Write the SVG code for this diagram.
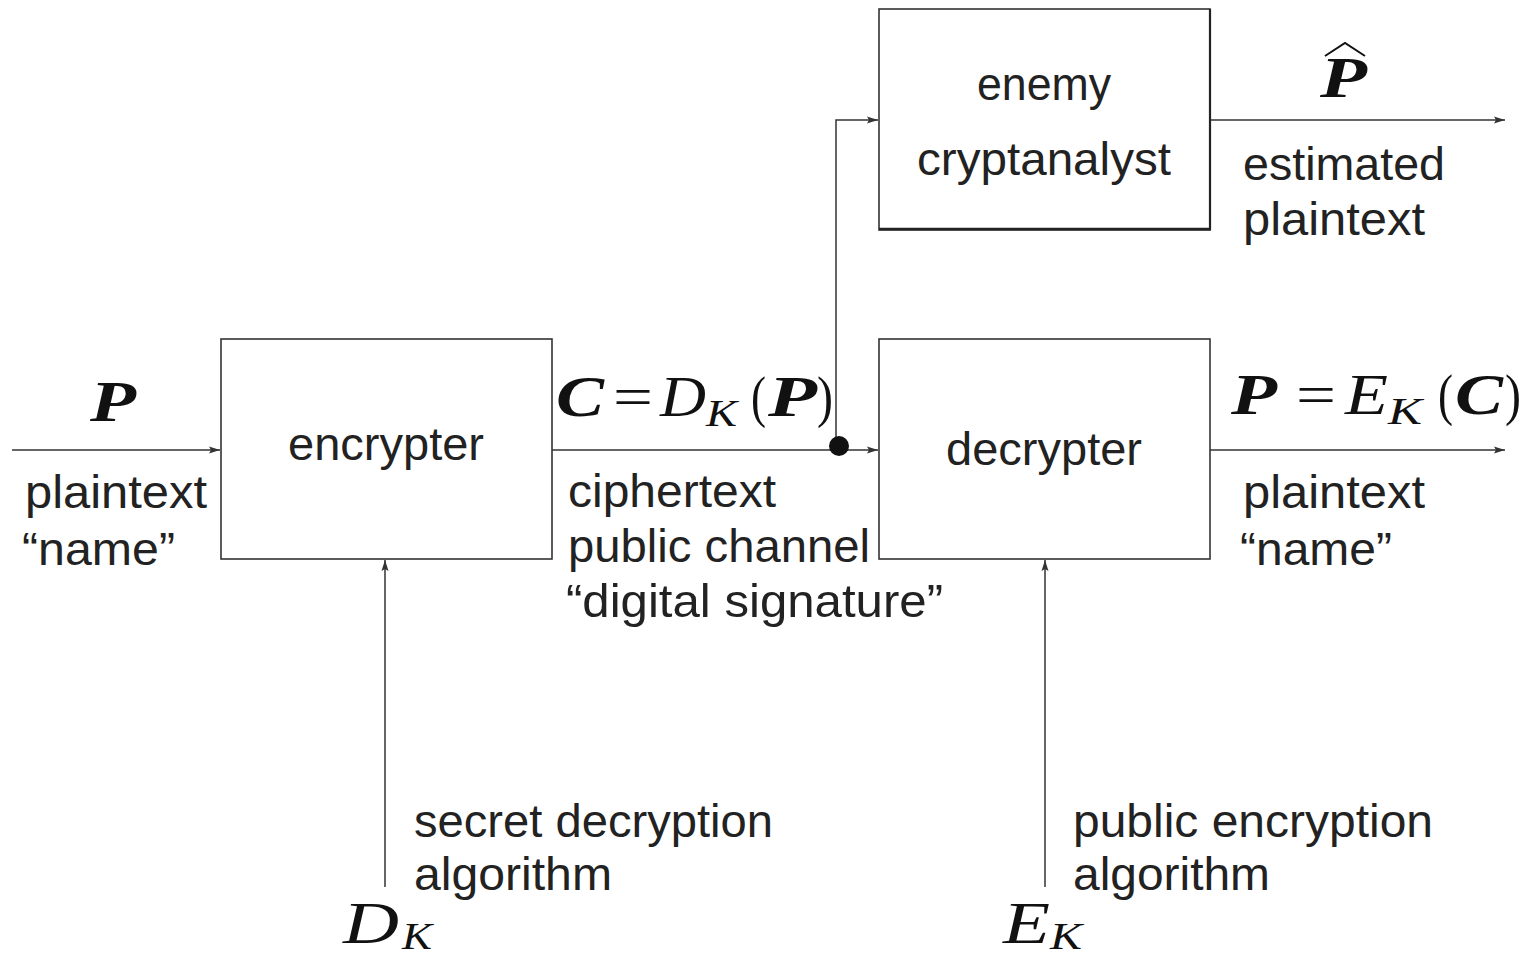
<svg xmlns="http://www.w3.org/2000/svg" width="1527" height="955" viewBox="0 0 1527 955">
<style>
.box{fill:#fff;stroke:#333;stroke-width:1.6}
.ln{fill:none;stroke:#333;stroke-width:1.5}
.t{font-family:"Liberation Sans",Arial,sans-serif;font-size:47px;fill:#222}
.m{font-family:"Liberation Serif","Times New Roman",serif;font-style:italic;font-size:56px;fill:#111}
.mb{font-weight:bold}
.up{font-style:normal}
.sub{font-size:38px}
.big{font-size:60px}
</style>
<defs>
<marker id="ah" markerWidth="12" markerHeight="8" refX="11" refY="4" orient="auto" markerUnits="userSpaceOnUse">
<path d="M0,0.5 L11,4 L0,7.5 L2,4 Z" fill="#333"/>
</marker>
</defs>
<rect width="1527" height="955" fill="#fff"/>
<g id="connectors">
<line class="ln" x1="12" y1="450" x2="220" y2="450" marker-end="url(#ah)"/>
<line class="ln" x1="552" y1="450" x2="878" y2="450" marker-end="url(#ah)"/>
<polyline class="ln" points="836,447 836,120 878,120" marker-end="url(#ah)"/>
<circle cx="839" cy="446" r="10" fill="#111"/>
<line class="ln" x1="1210" y1="120" x2="1505" y2="120" marker-end="url(#ah)"/>
<line class="ln" x1="1210" y1="450" x2="1505" y2="450" marker-end="url(#ah)"/>
<line class="ln" x1="385" y1="887" x2="385" y2="560" marker-end="url(#ah)"/>
<line class="ln" x1="1045" y1="887" x2="1045" y2="560" marker-end="url(#ah)"/>
</g>
<g id="encrypter">
<rect class="box" x="221" y="339" width="331" height="220"/>
<text class="t" x="288" y="460" textLength="196" lengthAdjust="spacingAndGlyphs">encrypter</text>
</g>
<g id="decrypter">
<rect class="box" x="879" y="339" width="331" height="220"/>
<text class="t" x="946" y="465" textLength="196" lengthAdjust="spacingAndGlyphs">decrypter</text>
</g>
<g id="enemy">
<rect class="box" x="879" y="9" width="331" height="221"/>
<line x1="879" y1="229" x2="1211" y2="229" stroke="#222" stroke-width="2.5"/>
<line x1="1210" y1="9" x2="1210" y2="230" stroke="#222" stroke-width="2.2"/>
<text class="t" x="977" y="100" textLength="134" lengthAdjust="spacingAndGlyphs">enemy</text>
<text class="t" x="917" y="175" textLength="254" lengthAdjust="spacingAndGlyphs">cryptanalyst</text>
</g>
<g id="input-label">
<text class="m mb" x="90" y="421" textLength="46" lengthAdjust="spacingAndGlyphs">P</text>
<text class="t" x="25" y="508" textLength="182" lengthAdjust="spacingAndGlyphs">plaintext</text>
<text class="t" x="22" y="565" textLength="153" lengthAdjust="spacingAndGlyphs">“name”</text>
</g>
<g id="channel-label">
<text class="m mb" x="556" y="416" textLength="48" lengthAdjust="spacingAndGlyphs">C</text>
<text class="m up" x="613" y="416" textLength="40" lengthAdjust="spacingAndGlyphs">=</text>
<text class="m" x="660" y="416" textLength="46" lengthAdjust="spacingAndGlyphs">D</text>
<text class="m sub" x="706" y="426" textLength="31" lengthAdjust="spacingAndGlyphs">K</text>
<text class="m up" x="751" y="416" textLength="15" lengthAdjust="spacingAndGlyphs">(</text>
<text class="m mb" x="768" y="416" textLength="49" lengthAdjust="spacingAndGlyphs">P</text>
<text class="m up" x="817" y="416" textLength="16" lengthAdjust="spacingAndGlyphs">)</text>
<text class="t" x="568" y="507" textLength="208" lengthAdjust="spacingAndGlyphs">ciphertext</text>
<text class="t" x="568" y="562" textLength="302" lengthAdjust="spacingAndGlyphs">public channel</text>
<text class="t" x="566" y="617" textLength="377" lengthAdjust="spacingAndGlyphs">“digital signature”</text>
</g>
<g id="estimate-label">
<text class="m mb" x="1320" y="97" textLength="47" lengthAdjust="spacingAndGlyphs">P</text>
<path d="M1325,56 L1345,43 L1365,56" fill="none" stroke="#111" stroke-width="2"/>
<text class="t" x="1243" y="180" textLength="202" lengthAdjust="spacingAndGlyphs">estimated</text>
<text class="t" x="1243" y="235" textLength="182" lengthAdjust="spacingAndGlyphs">plaintext</text>
</g>
<g id="output-label">
<text class="m mb" x="1231" y="414" textLength="46" lengthAdjust="spacingAndGlyphs">P</text>
<text class="m up" x="1296" y="414" textLength="40" lengthAdjust="spacingAndGlyphs">=</text>
<text class="m" x="1345" y="414" textLength="43" lengthAdjust="spacingAndGlyphs">E</text>
<text class="m sub" x="1388" y="424" textLength="34" lengthAdjust="spacingAndGlyphs">K</text>
<text class="m up" x="1438" y="414" textLength="15" lengthAdjust="spacingAndGlyphs">(</text>
<text class="m mb" x="1455" y="414" textLength="48" lengthAdjust="spacingAndGlyphs">C</text>
<text class="m up" x="1505" y="414" textLength="16" lengthAdjust="spacingAndGlyphs">)</text>
<text class="t" x="1243" y="508" textLength="182" lengthAdjust="spacingAndGlyphs">plaintext</text>
<text class="t" x="1240" y="565" textLength="152" lengthAdjust="spacingAndGlyphs">“name”</text>
</g>
<g id="dk-label">
<text class="t" x="414" y="837" textLength="359" lengthAdjust="spacingAndGlyphs">secret decryption</text>
<text class="t" x="414" y="890" textLength="198" lengthAdjust="spacingAndGlyphs">algorithm</text>
<text class="m big" x="343" y="943" textLength="56" lengthAdjust="spacingAndGlyphs">D</text>
<text class="m sub" x="402" y="949" textLength="30" lengthAdjust="spacingAndGlyphs">K</text>
</g>
<g id="ek-label">
<text class="t" x="1073" y="837" textLength="360" lengthAdjust="spacingAndGlyphs">public encryption</text>
<text class="t" x="1073" y="890" textLength="197" lengthAdjust="spacingAndGlyphs">algorithm</text>
<text class="m big" x="1003" y="943" textLength="47" lengthAdjust="spacingAndGlyphs">E</text>
<text class="m sub" x="1050" y="949" textLength="32" lengthAdjust="spacingAndGlyphs">K</text>
</g>
</svg>
